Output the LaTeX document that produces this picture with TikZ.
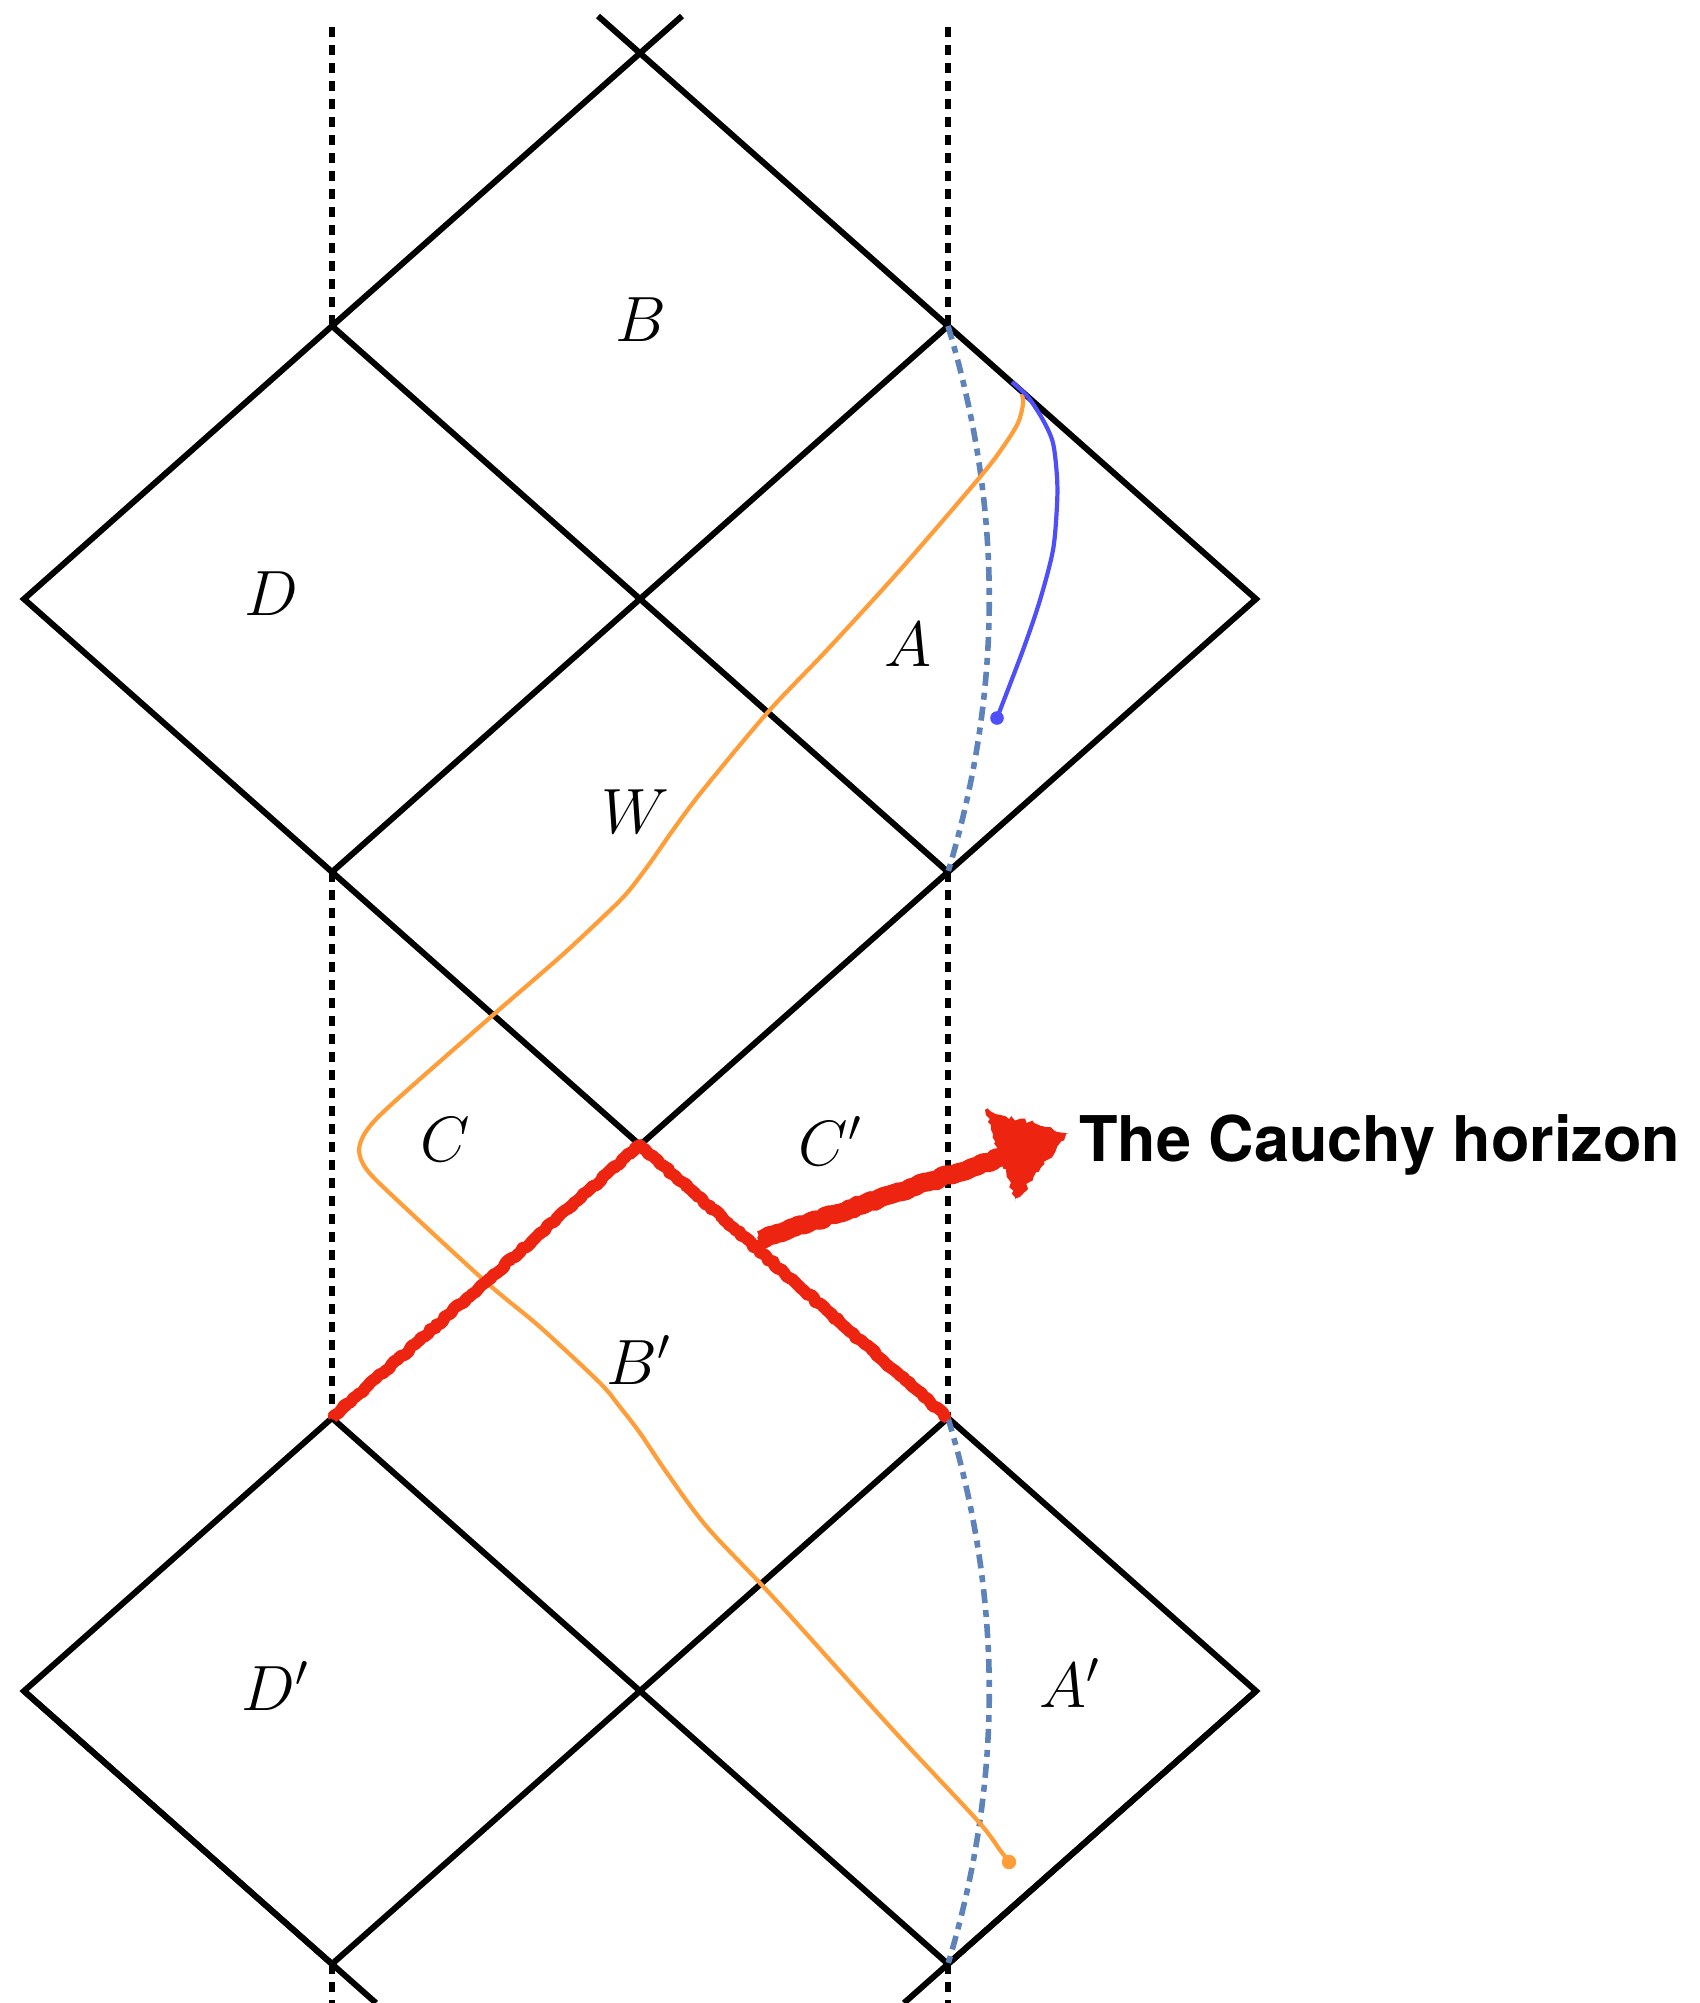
\RequirePackage{fix-cm}
\documentclass[tikz,border=0pt]{standalone}
\usepackage{fontspec}
\newfontfamily\heros{TeX Gyre Heros}
\usetikzlibrary{decorations.pathmorphing}
\definecolor{crayred}{RGB}{236,36,16}
\definecolor{steel}{RGB}{94,130,186}
\definecolor{orng}{RGB}{255,158,56}
\definecolor{blu}{RGB}{78,78,250}
\begin{document}
\begin{tikzpicture}[x=0.5pt,y=-0.5pt,
  frame/.style={line width=3pt},
  dotline/.style={line width=3.2pt, dash pattern=on 5pt off 4pt},
  dashdot/.style={draw=steel, line width=2.8pt, dash pattern=on 7pt off 3.5pt on 3.5pt off 3.5pt},
  orangepath/.style={draw=orng, line width=2.1pt},
  bluepath/.style={draw=blu, line width=2.1pt},
  crayon/.style={draw=crayred, line width=6pt, line join=round, decorate,
    decoration={random steps, segment length=2pt, amplitude=0.7pt}},
  reglabel/.style={inner sep=0pt, font=\fontsize{32}{38}\selectfont},
  titletext/.style={inner sep=0pt, anchor=base west, font=\heros\bfseries\fontsize{31.5}{36}\selectfont}]
\pgfmathsetseed{7}
\useasboundingbox (0,0) rectangle (1700,2003);
% vertices
\coordinate (t) at (640,53);
\coordinate (e1) at (598,16);
\coordinate (e2) at (682,16);
\coordinate (l1) at (332,326);
\coordinate (r1) at (948,326);
\coordinate (ll2) at (24,599);
\coordinate (c2) at (640,599);
\coordinate (rr2) at (1256,599);
\coordinate (l3) at (332,872);
\coordinate (r3) at (948,872);
\coordinate (c4) at (640,1145);
\coordinate (l5) at (332,1418);
\coordinate (r5) at (948,1418);
\coordinate (ll6) at (24,1691);
\coordinate (c6) at (640,1691);
\coordinate (rr6) at (1256,1691);
\coordinate (l7) at (332,1964);
\coordinate (r7) at (948,1964);
\coordinate (b1) at (376,2003);
\coordinate (b2) at (904,2003);
\coordinate (dl0) at (332,27);
\coordinate (dr0) at (948,27);
\coordinate (dl9) at (332,2003);
\coordinate (dr9) at (948,2003);
% frame lines
\draw[frame] (e1) -- (r1);
\draw[frame] (e2) -- (l1);
\draw[frame] (l1) -- (ll2) -- (l3) -- (c2) -- cycle;
\draw[frame] (c2) -- (r1) -- (rr2) -- (r3) -- cycle;
\draw[frame] (l3) -- (c4) -- (r3);
\draw[frame] (c4) -- (l5);
\draw[frame] (c4) -- (r5);
\draw[frame] (l5) -- (ll6) -- (l7) -- (c6) -- cycle;
\draw[frame] (c6) -- (r5) -- (rr6) -- (r7) -- cycle;
\draw[frame] (ll6) -- (b1);
\draw[frame] (rr6) -- (b2);
% dotted lines
\draw[dotline] (dl0) -- (l1);
\draw[dotline] (dr0) -- (r1);
\draw[dotline] (l3) -- (l5);
\draw[dotline] (r3) -- (r5);
\draw[dotline] (l7) -- (dl9);
\draw[dotline] (r7) -- (dr9);
% dash-dot curves
\draw[dashdot] (r1) .. controls (1003,508) and (1003,690) .. (r3);
\draw[dashdot] (r5) .. controls (1003,1600) and (1003,1782) .. (r7);
% orange worldline
\coordinate (odot) at (1009,1862);
\draw[orangepath] plot[smooth, tension=0.5] coordinates {(1022,394) (1023,404) (1018,423) (1003,447) (980,477) (900,570) (827,650) (768,712) (703,790) (673,830) (650,863) (627,893) (603,917) (560,957) (493,1015) (393,1103) (367,1130) (359,1150) (367,1170) (397,1200) (486,1282) (540,1327) (600,1383) (620,1407) (640,1433) (667,1473) (707,1527) (773,1597) (894,1731) (977,1820) (1000,1850) (1009,1862)};
\fill[orng] (odot) circle (3.6pt);
% blue worldline
\coordinate (bdot) at (997,718);
\draw[bluepath] plot[smooth, tension=0.5] coordinates {(1012,382) (1028,397) (1043,420) (1053,443) (1057,477) (1057,505) (1053,550) (1040,600) (1023,650) (997,718)};
\fill[blu] (bdot) circle (3.4pt);
% red Cauchy horizon
\draw[crayon] (l5) -- (c4) -- (r5);
\draw[crayon, line width=3.5pt, decoration={random steps, segment length=1pt, amplitude=1.4pt}] (l5) -- (c4) -- (r5);
\coordinate (atail) at (758,1240);
\coordinate (abase) at (1002,1157);
\draw[crayon, line width=9.5pt] (atail) -- (abase);
\draw[crayon, line width=5pt, decoration={random steps, segment length=1pt, amplitude=2pt}] (atail) -- (abase);
\fill[crayred, decorate, decoration={random steps, segment length=2pt, amplitude=1.2pt}] (985,1110) -- (1069,1133) -- (1015,1202) -- cycle;
% labels
\node[reglabel] (lB) at (641,320) {$B$};
\node[reglabel] (lD) at (271,594) {$D$};
\node[reglabel] (lA) at (908,645) {$A$};
\node[reglabel] (lW) at (635,812) {$W$};
\node[reglabel] (lC) at (445,1140) {$C$};
\node[reglabel] (lCp) at (830,1141) {$C'$};
\node[reglabel] (lBp) at (639,1360) {$B'$};
\node[reglabel] (lDp) at (275,1686) {$D'$};
\node[reglabel] (lAp) at (1070,1683) {$A'$};
\node[titletext] (title) at (1079,1161.7) {The Cauchy horizon};
\end{tikzpicture}
\end{document}
